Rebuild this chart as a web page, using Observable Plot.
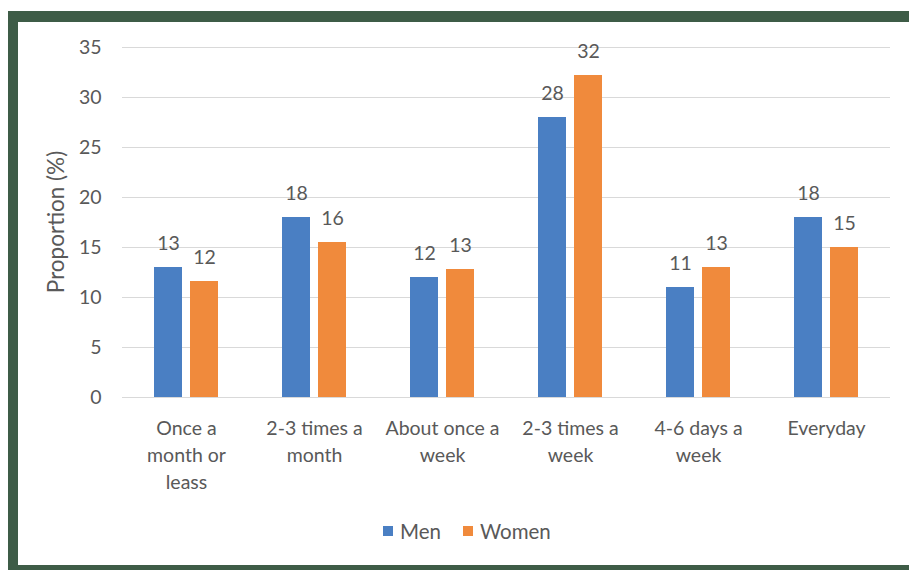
<!DOCTYPE html>
<html><head><meta charset="utf-8">
<script src="https://cdn.jsdelivr.net/npm/d3@7"></script>
<script src="https://cdn.jsdelivr.net/npm/@observablehq/plot@0.6"></script>
<style>
html,body{margin:0;padding:0;background:#fff;width:909px;height:570px;overflow:hidden;font-family:Lato,"Open Sans",sans-serif;}
#frame{position:absolute;left:8px;top:11px;width:920px;height:559px;background:#3e5c47;}
#inner{position:absolute;left:10px;top:11px;width:910px;height:543px;background:#fff;}
#chart{position:absolute;left:0;top:0;}
#ylabel{position:absolute;left:37px;top:200px;width:0;height:0;}
#ylabel span{position:absolute;left:0;top:0;transform:translate(-50%,-50%) rotate(-90deg);white-space:nowrap;font-size:22.5px;color:#595959;}
#legend{position:absolute;left:365px;top:497px;display:flex;align-items:center;font-size:20.5px;color:#595959;white-space:nowrap;}
#legend .sw{display:inline-block;width:10px;height:10px;margin-right:7px;}
#legend .it{display:flex;align-items:center;margin-right:22px;}
</style>
</head><body>
<div id="frame"><div id="inner"><div id="chart"></div><div id="ylabel"><span id="ylabtext"></span></div><div id="legend"></div></div></div>
<script>
const categories = ["Once a month or leass", "2-3 times a month", "About once a week", "2-3 times a week", "4-6 days a week", "Everyday"];
const tickLabels = ["Once a\nmonth or\nleass", "2-3 times a\nmonth", "About once a\nweek", "2-3 times a\nweek", "4-6 days a\nweek", "Everyday"];
const series = ["Men", "Women"];
const men = [13, 18, 12, 28, 11, 18];
const women = [11.6, 15.5, 12.8, 32.2, 13, 15];
const colors = ["#4a7fc3", "#f08a3c"];
const yTicks = [0, 5, 10, 15, 20, 25, 30, 35];
const yLabel = "Proportion (%)";

const data = [];
categories.forEach((c, i) => {
  data.push({category: c, series: "Men", value: men[i]});
  data.push({category: c, series: "Women", value: women[i]});
});
const labelOf = new Map(categories.map((c, i) => [c, tickLabels[i]]));

const chart = Plot.plot({
  width: 891,
  height: 480,
  marginLeft: 103,
  marginRight: 19,
  marginTop: 25,
  marginBottom: 105,
  style: {fontFamily: "Lato, 'Open Sans', sans-serif", color: "#595959", background: "transparent"},
  fx: {domain: categories, padding: 0},
  x: {domain: series, axis: null, paddingInner: 0.216, paddingOuter: 0.84},
  y: {domain: [0, 35]},
  color: {domain: series, range: colors},
  marks: [
    Plot.gridY(yTicks, {stroke: "#d9d9d9", strokeOpacity: 1, strokeWidth: 1}),
    Plot.barY(data, {fx: "category", x: "series", y: "value", fill: "series"}),
    Plot.text(data, {fx: "category", x: "series", y: "value", text: d => String(Math.round(d.value)), lineAnchor: "bottom", dy: -18, fontSize: 19.5, fill: "#595959"}),
    Plot.axisY({ticks: yTicks, tickSize: 0, tickPadding: 21, fontSize: 19.5, label: null}),
    Plot.axisFx({anchor: "bottom", tickSize: 0, tickPadding: 18, fontSize: 19.5, lineHeight: 1.4, tickFormat: c => labelOf.get(c), label: null})
  ]
});
document.getElementById("chart").appendChild(chart);
document.getElementById("ylabtext").textContent = yLabel;

const legend = document.getElementById("legend");
series.forEach((s, i) => {
  const it = document.createElement("div");
  it.className = "it";
  const sw = document.createElement("span");
  sw.className = "sw";
  sw.style.background = colors[i];
  it.appendChild(sw);
  it.appendChild(document.createTextNode(s));
  legend.appendChild(it);
});
</script>
</body></html>
